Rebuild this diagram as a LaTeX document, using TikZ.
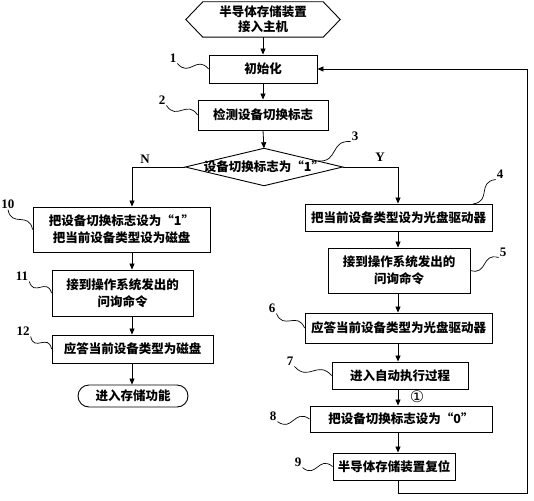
\documentclass[tikz,border=0pt]{standalone}
\usepackage{fontspec}
\setmainfont{Noto Sans CJK SC}
\newfontfamily\numfont{Liberation Serif}
\newfontfamily\symfont{DejaVu Sans}
\usetikzlibrary{arrows.meta,calc}
\begin{document}
\begin{tikzpicture}[x=1pt,y=-1pt,
  box/.style={draw,line width=0.9pt,minimum width=#1,align=center,inner sep=0pt,font=\bfseries\fontsize{12.5}{17}\selectfont},
  shp/.style={minimum width=#1,align=center,inner sep=0pt,font=\bfseries\fontsize{12.5}{17}\selectfont},
  arr/.style={line width=0.8pt,-{Triangle[length=6pt,width=5pt]}},
  num/.style={font=\numfont\bfseries\fontsize{13}{14}\selectfont,inner sep=1pt},
  wv/.style={line width=0.7pt}]
\useasboundingbox (0,0) rectangle (534,500);
\newcommand\wavy[2]{\draw[wv] (#1) .. controls ($(#1)!0.45!(#2)!12pt!-90:(#2)$) and ($(#1)!0.55!(#2)!12pt!90:(#2)$) .. (#2);}
\coordinate (xL) at (132,0);
\coordinate (xR) at (398,0);
\coordinate (fbc) at (527,493);
% start hexagon
\node[shp=120pt,minimum height=35pt] (st) at (263,19.5) {半导体存储装置\\[-2pt]接入主机};
\draw[line width=0.9pt] (st.north west) -- (st.north east) -- ($(st.east)+(17,0)$) -- (st.south east) -- (st.south west) -- ($(st.west)+(-17,0)$) -- cycle;
\node[box=108pt,minimum height=28pt] (b1) at (263,69) {初始化};
\node[box=130pt,minimum height=30pt] (b2) at (263,115) {检测设备切换标志};
\node[shp=157pt,minimum height=37pt] (d) at (264,167) {设备切换标志为“1”};
\draw[line width=0.9pt] (d.west) -- (d.north) -- (d.east) -- (d.south) -- cycle;
% right column
\node[box=187pt,minimum height=27pt] (b4) at (398.5,217.5) {把当前设备类型设为光盘驱动器};
\node[box=142pt,minimum height=45pt] (b5) at (399,270.5) {接到操作系统发出的\\问询命令};
\node[box=187pt,minimum height=30pt] (b6) at (398.5,328) {应答当前设备类型为光盘驱动器};
\node[box=136pt,minimum height=27pt] (b7) at (400,375.5) {进入自动执行过程};
\node[box=182pt,minimum height=26pt] (b8) at (401,419) {把设备切换标志设为“0”};
\node[box=122pt,minimum height=27pt] (b9) at (394,466.5) {半导体存储装置复位};
% left column
\node[box=177pt,minimum height=45pt] (b10) at (121.5,229.5) {把设备切换标志设为“1”\\把当前设备类型设为磁盘};
\node[box=141pt,minimum height=46pt] (b11) at (122.5,293) {接到操作系统发出的\\问询命令};
\node[box=161pt,minimum height=28pt] (b12) at (132.5,349) {应答当前设备类型为磁盘};
\node[box=110pt,minimum height=22pt,rounded corners=11pt] (t) at (133,396) {进入存储功能};
% arrows
\draw[arr] (st.south) -- (b1.north);
\draw[arr] (b1.south) -- (b2.north);
\draw[arr] (b2.south) -- (d.north);
\draw[arr] (d.west) -| (b10.north -| xL);
\draw[arr] (d.east) -| (b4.north -| xR);
\draw[arr] (b10.south -| xL) -- (b11.north -| xL);
\draw[arr] (b11.south -| xL) -- (b12.north -| xL);
\draw[arr] (b12.south -| xL) -- (t.north -| xL);
\draw[arr] (b4.south -| xR) -- (b5.north -| xR);
\draw[arr] (b5.south -| xR) -- (b6.north -| xR);
\draw[arr] (b6.south -| xR) -- (b7.north -| xR);
\draw[arr] (b7.south -| xR) -- (b8.north -| xR);
\draw[arr] (b8.south -| xR) -- (b9.north -| xR);
\draw[arr] (b9.south -| xR) |- (fbc) |- (b1.east);
% branch labels
\node[num] (nN) at (145,159) {N};
\node[num] (nY) at (380,157) {Y};
\node[font=\symfont\fontsize{16}{16}\selectfont,inner sep=0pt] (c1) at (417,397) {①};
% step numbers
\node[num] (n1) at (173,58) {1};
\node[num] (n2) at (162,100) {2};
\node[num] (n3) at (355,136) {3};
\node[num] (n4) at (500,174) {4};
\node[num] (n5) at (503,252) {5};
\node[num] (n6) at (272,308) {6};
\node[num] (n7) at (290,361) {7};
\node[num] (n8) at (273,416) {8};
\node[num] (n9) at (298,462) {9};
\node[num] (n10) at (8,204) {10};
\node[num] (n11) at (22,276) {11};
\node[num] (n12) at (23,331) {12};
\coordinate (w3) at (318,161);
\coordinate (w4) at (473,204);
\wavy{n1.south east}{b1.west}
\wavy{n2.south east}{b2.west}
\wavy{n3.south west}{w3}
\wavy{n4.south west}{w4}
\wavy{n5.south west}{b5.east}
\wavy{n6.south east}{b6.west}
\wavy{n7.south east}{b7.west}
\wavy{n8.south east}{b8.west}
\wavy{n9.south east}{b9.west}
\wavy{n10.south}{b10.west}
\wavy{n11.south east}{b11.west}
\wavy{n12.south east}{b12.west}
\end{tikzpicture}
\end{document}
